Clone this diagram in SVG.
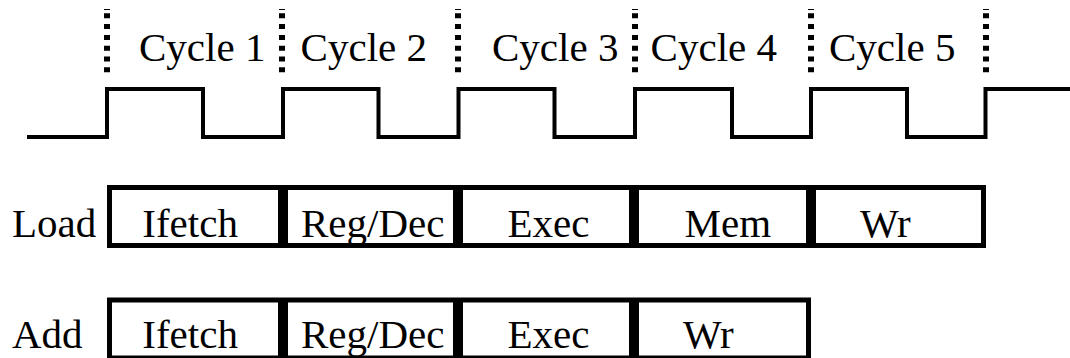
<svg xmlns="http://www.w3.org/2000/svg" width="1070" height="358" viewBox="0 0 1070 358">
<style>
.t{font-family:'Liberation Serif', 'Times New Roman', Times, serif;font-size:41px;fill:#000}
.box{fill:#fff;stroke:#000;stroke-width:5}
.tick{stroke:#000;stroke-width:6;stroke-dasharray:1 3.3 5 5.8 5 5.8 5 5.8 5 5.8 5 5.8 5 40}
.clk{fill:none;stroke:#000;stroke-width:4;stroke-linejoin:miter}
</style>
<rect width="1070" height="358" fill="#fff"/>
<g id="cycle-ticks">
<line class="tick" x1="107" y1="9" x2="107" y2="72.3"/>
<line class="tick" x1="282" y1="9" x2="282" y2="72.3"/>
<line class="tick" x1="458" y1="9" x2="458" y2="72.3"/>
<line class="tick" x1="635" y1="9" x2="635" y2="72.3"/>
<line class="tick" x1="811" y1="9" x2="811" y2="72.3"/>
<line class="tick" x1="986" y1="9" x2="986" y2="72.3"/>
</g>
<g id="cycle-labels" class="t">
<text x="139" y="60.5">Cycle 1</text>
<text x="300.6" y="60.5">Cycle 2</text>
<text x="492" y="60.5">Cycle 3</text>
<text x="650.6" y="60.5">Cycle 4</text>
<text x="829" y="60.5">Cycle 5</text>
</g>
<g id="clock">
<path class="clk" d="M27,137 H107 V89 H203 V137 H283 V89 H378.5 V137 H458.5 V89 H554.5 V137 H635 V89 H732 V137 H811 V89 H907 V137 H985.5 V89 H1070"/>
</g>
<g id="load" class="t">
<text x="12" y="236.7">Load</text>
<g id="load-ifetch"><rect class="box" x="109.5" y="187.5" width="171" height="58"/><text x="142.3" y="236.7">Ifetch</text></g>
<g id="load-regdec"><rect class="box" x="285.5" y="187.5" width="170" height="58"/><text x="301" y="236.7">Reg/Dec</text></g>
<g id="load-exec"><rect class="box" x="460.5" y="187.5" width="171" height="58"/><text x="507.5" y="236.7">Exec</text></g>
<g id="load-mem"><rect class="box" x="636.5" y="187.5" width="172" height="58"/><text x="684.5" y="236.7">Mem</text></g>
<g id="load-wr"><rect class="box" x="813.5" y="187.5" width="170" height="58"/><text x="860" y="236.7">Wr</text></g>
</g>
<g id="add" class="t">
<text x="12" y="348.3">Add</text>
<g id="add-ifetch"><rect class="box" x="109.5" y="300" width="171" height="58"/><text x="142.3" y="348.3">Ifetch</text></g>
<g id="add-regdec"><rect class="box" x="285.5" y="300" width="170" height="58"/><text x="301" y="348.3">Reg/Dec</text></g>
<g id="add-exec"><rect class="box" x="460.5" y="300" width="171" height="58"/><text x="507.5" y="348.3">Exec</text></g>
<g id="add-wr"><rect class="box" x="636.5" y="300" width="172" height="58"/><text x="683" y="348.3">Wr</text></g>
</g>
<g id="connectors"/>
</svg>
